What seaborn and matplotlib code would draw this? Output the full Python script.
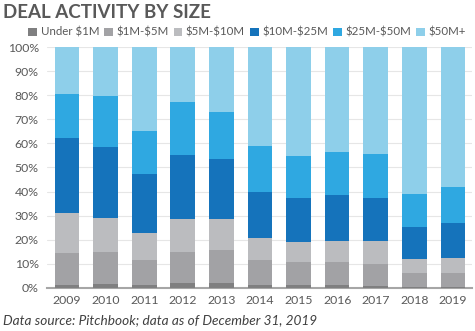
import numpy as np
import pandas as pd
import matplotlib
matplotlib.use("Agg")
import matplotlib.pyplot as plt
from matplotlib.patches import Patch
import seaborn as sns

years = ["2009", "2010", "2011", "2012", "2013", "2014", "2015", "2016", "2017", "2018", "2019"]
categories = ["Under $1M", "$1M-$5M", "$5M-$10M", "$10M-$25M", "$25M-$50M", "$50M+"]
under_1m = [1.4, 1.7, 1.4, 2.1, 2.1, 1.4, 1.1, 1.1, 1.0, 0.6, 0.6]
m1_5 = [13.1, 13.2, 10.3, 12.8, 13.5, 10.0, 9.5, 9.5, 8.9, 5.5, 5.6]
m5_10 = [16.5, 14.2, 11.3, 13.8, 13.0, 9.4, 8.4, 9.0, 9.4, 6.0, 6.2]
m10_25 = [31.3, 29.2, 24.3, 26.3, 24.8, 19.1, 18.5, 18.9, 18.2, 13.0, 14.5]
m25_50 = [18.1, 21.4, 17.9, 22.2, 19.6, 19.0, 17.3, 18.1, 18.2, 13.8, 14.8]
m50_plus = [19.6, 20.3, 34.8, 22.8, 27.0, 41.1, 45.2, 43.4, 44.3, 61.1, 58.3]

colors = ["#7f7f80", "#a2a2a5", "#bbbcbf", "#1573bb", "#2fa8e1", "#8ecfea"]

series = [under_1m, m1_5, m5_10, m10_25, m25_50, m50_plus]
vals = np.array(series)
vals = vals / vals.sum(axis=0) * 100
cum = np.cumsum(vals, axis=0)

sns.set_style("white")
plt.rcParams['font.family'] = ['Lato', 'DejaVu Sans']
plt.rcParams['text.parse_math'] = False

fig = plt.figure(figsize=(4.75, 3.31), dpi=100)
ax = fig.add_axes([0.099, 0.13, 0.895, 0.728])

for i in range(len(categories) - 1, -1, -1):
    df = pd.DataFrame({"year": years, "value": cum[i]})
    sns.barplot(data=df, x="year", y="value", color=colors[i], width=0.64,
                saturation=1, ax=ax, linewidth=0, zorder=3)

ax.set_ylim(0, 100)
ax.set_xlim(-0.52, 10.5)
ax.set_yticks(np.arange(0, 101, 10))
ax.set_yticklabels([f"{v}%" for v in range(0, 101, 10)])
ax.set_xlabel("")
ax.set_ylabel("")
ax.yaxis.grid(True, color="#e6e6e6", linewidth=0.8, zorder=0)
ax.set_axisbelow(True)
for s in ["top", "right", "left"]:
    ax.spines[s].set_visible(False)
ax.spines["bottom"].set_color("#a6a6a6")
ax.spines["bottom"].set_linewidth(1.5)
ax.tick_params(axis="both", length=0, labelsize=8.8, labelcolor="#595959", pad=5)
ax.tick_params(axis="y", pad=6)

handles = [Patch(facecolor=c, edgecolor="none") for c in colors]
fig.legend(handles, categories, loc="center", bbox_to_anchor=(0.52, 0.902), ncol=6,
           frameon=False, fontsize=8.3, handlelength=0.75, handleheight=0.75,
           handletextpad=0.3, columnspacing=0.45, labelcolor="#595959",
           borderpad=0, borderaxespad=0)

fig.text(0.006, 0.962, "DEAL ACTIVITY BY SIZE", fontsize=13.5, fontweight="bold",
         color="#595959", va="center", ha="left")
fig.text(0.006, 0.033, "Data source: Pitchbook; data as of December 31, 2019", fontsize=9.8,
         style="italic", color="#404040", va="center", ha="left")

fig.savefig("out.png", dpi=100)
